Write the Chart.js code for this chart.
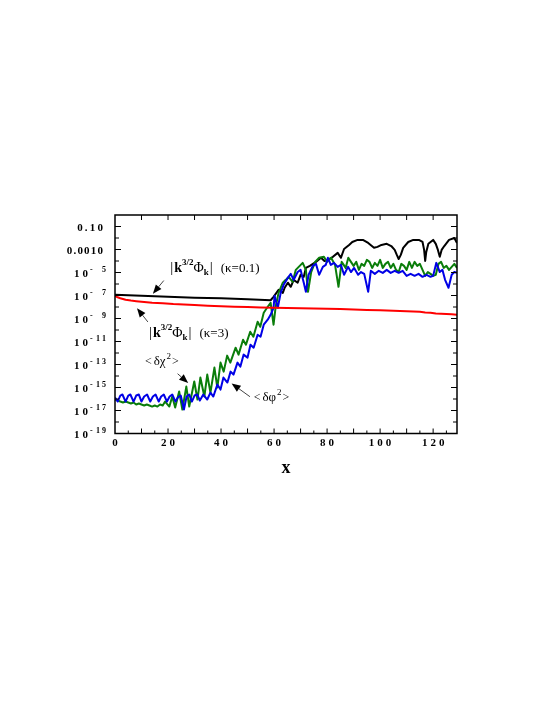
<!DOCTYPE html>
<html><head><meta charset="utf-8">
<script src="https://cdn.jsdelivr.net/npm/chart.js@4.4.1/dist/chart.umd.min.js"></script>
<style>html,body{margin:0;padding:0;background:#fff}canvas{display:block}</style>
</head><body>
<canvas id="c" width="545" height="705" style="width:545px;height:705px"></canvas>
<script>
// ---- data ----
const xTickValues = [0, 20, 40, 60, 80, 100, 120];
const xTickLabels = ['0', '20', '40', '60', '80', '100', '120'];
const yTickValues = [1e-1, 1e-3, 1e-5, 1e-7, 1e-9, 1e-11, 1e-13, 1e-15, 1e-17, 1e-19];
const yTickLabels = ['0.10', '0.0010', '10^-5', '10^-7', '10^-9', '10^-11', '10^-13', '10^-15', '10^-17', '10^-19'];

// |k^{3/2} Phi_k| (kappa = 0.1)  -- black
const blackX = [0,10,20,30,40,50,58.7,59.8,61.7,63.3,64,65.2,66.3,67.4,68.9,70,71.2,72,73.5,75.8,77.7,79,80.3,82.2,84,85.2,86.4,88.3,89.5,91.5,93.5,95.5,97.7,99,100.5,102.5,104.2,105.5,106.3,107,107.8,108.7,110.6,112.5,114.6,116,116.6,117,117.4,118.2,120,121,121.8,122.5,123.2,124.2,126,128,129];
const blackY = [1.15e-7,9.4e-8,7.7e-8,6.3e-8,5.7e-8,4.7e-8,3.85e-8,7.7e-8,3.1e-7,1.7e-7,4.7e-7,1.3e-6,5.7e-7,2.3e-6,1.3e-6,6.3e-6,4.2e-6,2.5e-5,3.8e-5,8.4e-5,1.9e-4,1.0e-4,1.25e-4,2.3e-4,5.1e-4,1.9e-4,1.1e-3,2.5e-3,4.5e-3,6.8e-3,6.8e-3,3.7e-3,1.4e-3,1.7e-3,2.5e-3,3.1e-3,2.0e-3,9.2e-4,3.4e-4,1.5e-4,3.4e-4,1.4e-3,4.5e-3,6.8e-3,6.8e-3,4.5e-3,9.2e-4,1.0e-4,6.2e-4,3.1e-3,6.8e-3,3.1e-3,9.2e-4,2.3e-4,9.2e-4,2.0e-3,6.8e-3,1.0e-2,3.7e-3];

// |k^{3/2} Phi_k| (kappa = 3)  -- red
const redX = [0,1,2,3,4,6,8,10,14,18,22,26,30,35,40,45,50,55,60,65,70,75,80,85,90,95,100,105,110,115,117,119,121,123,125,127,129];
const redY = [9.4e-8,7.0e-8,5.7e-8,4.9e-8,4.2e-8,3.6e-8,3.2e-8,2.85e-8,2.3e-8,2.1e-8,1.8e-8,1.65e-8,1.5e-8,1.3e-8,1.17e-8,1.05e-8,9.8e-9,9.0e-9,8.6e-9,8.2e-9,7.7e-9,7.4e-9,7.0e-9,6.6e-9,6.1e-9,5.5e-9,5.1e-9,4.7e-9,4.2e-9,3.9e-9,3.3e-9,3.2e-9,2.7e-9,2.6e-9,2.45e-9,2.3e-9,2.1e-9];

// <delta chi^2>  -- green
const greenX = [0,1,2,3,4,5,6,7,8,9,10,11,12,13,14,15,16,17,18,18.9,20.5,21.6,22.7,24.2,25.4,26.9,28,29.9,31.1,32.2,33.7,34.8,36,37.5,38.6,39.8,41,42.3,43.5,45.5,46.6,48.3,49.4,51,52.2,53.8,54.8,56.1,57.6,58.7,59.8,60.6,61.7,63.3,64.4,65.5,67,68.2,69.3,70.8,72,72.8,74,75.5,77,78.8,80,81.5,83,84.3,85.5,87,88,89,90,91,92,93,94,95,96,97,98,99,100,101,102,103,104,105,106,107,108,109,110,111,112,113,114,115,116,117,118,119,120,121,122,123,124,125,126,127,128,129];
const greenY = [9.0e-17,7.4e-17,6.0e-17,5.0e-17,6.0e-17,5.0e-17,4.1e-17,5.0e-17,3.3e-17,4.1e-17,3.3e-17,2.7e-17,3.3e-17,2.7e-17,2.2e-17,2.7e-17,2.2e-17,3.3e-17,2.7e-17,6.0e-17,2.2e-17,1.64e-16,1.8e-17,4.5e-16,1.2e-17,1.2e-15,2.2e-17,3.3e-15,9.0e-17,7.3e-15,1.64e-16,1.33e-14,3.6e-16,5.4e-14,9.9e-16,1.46e-13,2.4e-14,5.9e-13,1.46e-13,2.9e-12,7.2e-13,1.44e-11,5.3e-12,7.1e-11,2.6e-11,5.2e-10,1.9e-10,3.2e-9,1.05e-8,2.3e-8,2.9e-10,1.05e-8,1.7e-7,1.3e-6,2.3e-6,4.2e-6,1.5e-6,1.7e-5,3.1e-5,6.9e-5,1.7e-5,2.1e-7,1.1e-5,8.4e-5,1.9e-4,2.3e-4,8.4e-5,1.9e-4,4.6e-5,5.7e-7,8.4e-5,2.5e-5,1.9e-4,8.4e-5,3.8e-5,8.4e-5,1.7e-5,5.6e-5,3.8e-5,1.25e-4,8.4e-5,2.5e-5,6.9e-5,3.8e-5,1.25e-4,2.5e-5,5.6e-5,8.4e-5,2.5e-5,5.6e-5,1.7e-5,1.1e-5,5.6e-5,3.8e-5,1.7e-5,8.4e-5,2.5e-5,8.4e-5,3.8e-5,5.6e-5,1.7e-5,5.1e-6,1.1e-5,7.6e-6,5.1e-6,6.3e-6,5.6e-5,8.4e-5,2.5e-5,3.8e-5,1.7e-5,3.1e-5,5.6e-5,2.5e-5];

// <delta phi^2>  -- blue
const blueX = [0,1,2,2.8,4,5,5.8,7,8,9,10,11,12.1,13.3,14.3,15.3,16.5,17.4,18.4,19.6,20.6,21.6,22.8,23.7,24.8,25.5,26,27,28,29,30,31,32,33.3,34.8,36,37.1,38.6,39.8,40.9,42.4,43.6,44.7,46.2,47.3,48.5,50,51.1,52.3,53.8,54.9,56.1,57.6,58.7,59.8,60.2,61.4,62.5,63.6,65.2,66.3,67.4,68.9,70,71.2,72,73,74.6,75.8,77,78.4,79.5,80.3,81.4,82.6,84,85.2,86.4,87.9,89,90.2,91.7,92.8,94,95.5,96.5,98,99.5,101,102.5,104,105.5,107,108.5,110,111.5,113,114.5,116,117.5,119,120,121.2,122.5,123.5,124.5,125.8,127,128,129];
const blueY = [1.35e-16,6.0e-17,2.0e-16,2.45e-16,6.0e-17,2.0e-16,2.45e-16,6.0e-17,2.0e-16,2.45e-16,6.0e-17,1.64e-16,2.45e-16,6.0e-17,1.64e-16,2.45e-16,6.0e-17,1.64e-16,2.45e-16,6.0e-17,1.64e-16,2.45e-16,6.0e-17,1.35e-16,2.0e-16,4.1e-17,1.2e-17,1.64e-16,2.45e-16,6.0e-17,2.0e-16,2.45e-16,7.4e-17,2.45e-16,9.0e-17,3.6e-16,1.64e-16,1.8e-15,6.6e-16,7.3e-15,2.7e-15,2.4e-14,1.33e-14,1.46e-13,6.6e-14,7.2e-13,4.0e-13,5.3e-12,2.9e-12,3.9e-11,2.6e-11,2.9e-10,7.8e-10,2.1e-9,8.6e-9,9.4e-8,8.6e-9,1.7e-7,8.5e-7,3.4e-6,7.6e-6,2.3e-6,1.1e-5,1.7e-5,1.3e-6,2.1e-7,6.3e-6,3.8e-5,5.6e-5,6.3e-6,3.1e-5,4.6e-5,1.9e-4,4.6e-5,6.9e-5,3.1e-5,4.6e-5,6.3e-6,3.1e-5,1.1e-5,2.5e-5,6.3e-6,1.1e-5,7.6e-6,2.1e-7,1.4e-5,7.6e-6,1.4e-5,9.3e-6,1.7e-5,9.3e-6,1.4e-5,9.3e-6,1.4e-5,5.1e-6,7.6e-6,5.1e-6,7.6e-6,4.2e-6,6.3e-6,4.2e-6,5.1e-6,6.9e-5,1.1e-5,1.7e-5,2.3e-6,4.7e-7,6.3e-6,1.1e-5,9.3e-6];

// ---- drawing ----
const SERIF = '"Liberation Serif","Times New Roman",serif';
const pts = (xs, ys) => xs.map((x, i) => ({ x: x, y: ys[i] }));

function drawSpaced(ctx, t, x, y, sp) {
  for (const ch of t) { ctx.fillText(ch, x, y); x += ctx.measureText(ch).width + sp; }
  return x;
}
function spacedWidth(ctx, t, sp) {
  let w = 0, n = 0;
  for (const ch of t) { w += ctx.measureText(ch).width; n++; }
  return w + sp * Math.max(0, n - 1);
}
function drawRich(ctx, segs, x, y) {
  ctx.textAlign = 'left';
  ctx.textBaseline = 'alphabetic';
  for (const s of segs) {
    x += (s.dx || 0);
    ctx.font = s.f;
    ctx.fillText(s.t, x, y + (s.dy || 0));
    x += ctx.measureText(s.t).width;
  }
}
function arrow(ctx, x1, y1, x2, y2) {
  const ang = Math.atan2(y2 - y1, x2 - x1);
  const L = 9, W = 3.6;
  const bx = x2 - L * Math.cos(ang), by = y2 - L * Math.sin(ang);
  ctx.strokeStyle = '#444';
  ctx.lineWidth = 1;
  ctx.beginPath(); ctx.moveTo(x1, y1); ctx.lineTo(bx, by); ctx.stroke();
  ctx.fillStyle = '#000';
  ctx.beginPath();
  ctx.moveTo(x2, y2);
  ctx.lineTo(bx + W * Math.sin(ang), by - W * Math.cos(ang));
  ctx.lineTo(bx - W * Math.sin(ang), by + W * Math.cos(ang));
  ctx.closePath(); ctx.fill();
}

const framePlugin = {
  id: 'frame',
  afterDraw(chart) {
    const ctx = chart.ctx;
    const a = chart.chartArea;
    const xs = chart.scales.x, ys = chart.scales.y;
    const px = v => xs.getPixelForValue(v);
    const py = le => ys.getPixelForValue(Math.pow(10, le));
    ctx.save();
    // frame
    ctx.strokeStyle = '#000';
    ctx.lineWidth = 1.5;
    ctx.strokeRect(a.left, a.top, a.right - a.left, a.bottom - a.top);
    // x ticks (inward)
    ctx.lineWidth = 1;
    ctx.beginPath();
    for (let v = 5; v < xs.max; v += 5) {
      const x = px(v);
      const len = v % 10 === 0 ? 5 : 3;
      ctx.moveTo(x, a.bottom); ctx.lineTo(x, a.bottom - len);
      if (v % 10 === 0) { ctx.moveTo(x, a.top); ctx.lineTo(x, a.top + 5); }
    }
    // y ticks (inward), every decade
    for (let e = -18; e <= -1; e++) {
      const y = py(e);
      const len = (e % 2 !== 0) ? 6 : 4;
      ctx.moveTo(a.left, y); ctx.lineTo(a.left + len, y);
      ctx.moveTo(a.right, y); ctx.lineTo(a.right - len, y);
    }
    ctx.stroke();

    // tick labels
    ctx.fillStyle = '#000';
    ctx.textBaseline = 'alphabetic';
    ctx.textAlign = 'left';
    ctx.font = 'bold 11px ' + SERIF;
    xTickValues.forEach((v, i) => {
      const t = xTickLabels[i];
      const w = spacedWidth(ctx, t, 3);
      drawSpaced(ctx, t, px(v) - w / 2, a.bottom + 12, 3);
    });
    yTickValues.forEach((v, i) => {
      const t = yTickLabels[i];
      const y = ys.getPixelForValue(v);
      if (t.indexOf('^') < 0) {
        ctx.font = 'bold 11px ' + SERIF;
        const sp = t.length > 4 ? 1.2 : 2.2;
        const w = spacedWidth(ctx, t, sp);
        drawSpaced(ctx, t, a.left - 12 - w, y + 4, sp);
      } else {
        const parts = t.split('^');
        ctx.font = 'bold 11px ' + SERIF;
        drawSpaced(ctx, parts[0], a.left - 41, y + 4, 3);
        ctx.font = 'bold 8px ' + SERIF;
        const ex = parts[1];
        ctx.fillText('-', a.left - 25, y - 1);
        const digits = ex.slice(1);
        const w = spacedWidth(ctx, digits, 2);
        drawSpaced(ctx, digits, a.left - 9 - w, y - 1, 2);
      }
    });
    // axis title
    ctx.font = 'bold 18px ' + SERIF;
    ctx.textAlign = 'center';
    ctx.fillText('x', (a.left + a.right) / 2, a.bottom + 39);

    // annotations
    ctx.fillStyle = '#000';
    const R = SERIF;
    const kphi = (kap) => [
      { t: '|', f: '15px ' + R },
      { t: 'k', f: 'bold 14px ' + R, dx: 1 },
      { t: '3/2', f: 'bold 9px ' + R, dy: -7 },
      { t: 'Φ', f: '14px ' + R },
      { t: 'k', f: 'bold 9px ' + R, dy: 3 },
      { t: '|', f: '15px ' + R, dx: 1 },
      { t: '(κ=' + kap + ')', f: '13px ' + R, dx: 8 }
    ];
    drawRich(ctx, kphi('0.1'), px(20.8), py(-4.95));
    arrow(ctx, px(18.4), py(-5.7), px(14.3), py(-6.85));
    drawRich(ctx, kphi('3'), px(12.8), py(-10.6));
    arrow(ctx, px(12.4), py(-9.3), px(8.3), py(-8.1));
    const angle = (sym) => [
      { t: '<', f: '12px ' + R },
      { t: 'δ' + sym, f: '13px ' + R, dx: 2 },
      { t: '2', f: '9px ' + R, dy: -6, dx: 1 },
      { t: '>', f: '12px ' + R, dx: 1 }
    ];
    drawRich(ctx, angle('χ'), px(11.3), py(-13.05));
    arrow(ctx, px(23.6), py(-13.8), px(27.6), py(-14.6));
    drawRich(ctx, angle('φ'), px(52.3), py(-16.2));
    arrow(ctx, px(50.9), py(-15.8), px(44.0), py(-14.65));
    ctx.restore();
  }
};

const ds = (label, xs, ys, color, order) => ({
  label, data: pts(xs, ys), borderColor: color, backgroundColor: color,
  borderWidth: 2, pointRadius: 0, tension: 0, fill: false, order,
  borderJoinStyle: 'round'
});

new Chart(document.getElementById('c'), {
  type: 'line',
  data: {
    datasets: [
      ds('|k^{3/2}Φk| (κ=3)', redX, redY, '#ff0000', 0),
      ds('<δφ²>', blueX, blueY, '#0000e6', 1),
      ds('<δχ²>', greenX, greenY, '#0a7d0a', 2),
      ds('|k^{3/2}Φk| (κ=0.1)', blackX, blackY, '#000000', 3)
    ]
  },
  options: {
    responsive: false,
    animation: false,
    devicePixelRatio: 1,
    layout: { padding: { left: 115, right: 88, top: 215, bottom: 271.5 } },
    plugins: { legend: { display: false }, tooltip: { enabled: false } },
    scales: {
      x: { type: 'linear', min: 0, max: 129, display: false },
      y: { type: 'logarithmic', min: 1e-19, max: 1, display: false }
    }
  },
  plugins: [framePlugin]
});
</script>
</body></html>
